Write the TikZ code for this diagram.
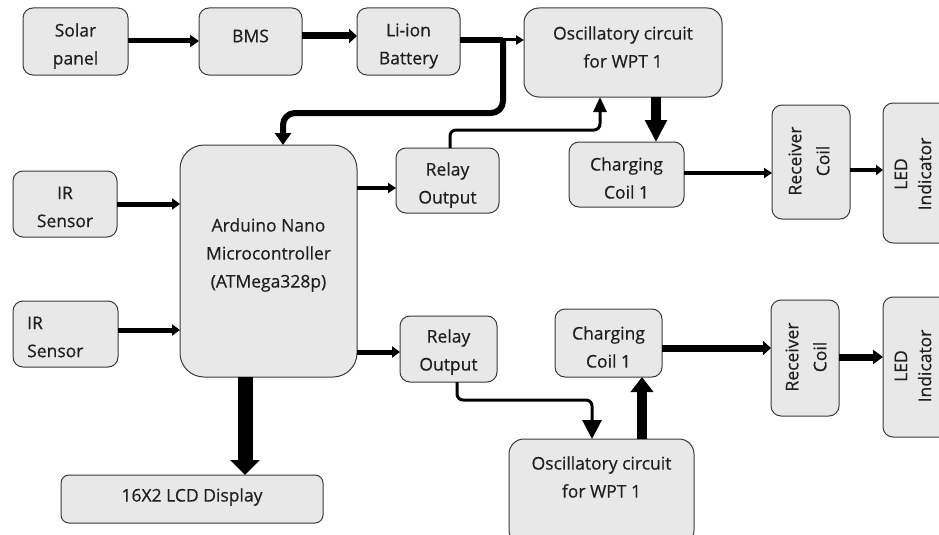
\documentclass[tikz,border=0pt]{standalone}
\usepackage{fontspec}
\setmainfont{Open Sans}[FakeBold=0.5]
\usetikzlibrary{arrows.meta,calc}
\definecolor{boxfill}{HTML}{E8E8E8}
\definecolor{boxline}{HTML}{3A3A3A}
\begin{document}
\begin{tikzpicture}[x=1pt,y=-1pt,
  box/.style={draw=boxline, fill=boxfill, line width=1pt, rounded corners=10pt, inner sep=0pt, outer sep=0pt},
  txt/.style={font=\fontsize{17.5}{28}\selectfont, align=center, inner sep=0pt, text=black!88},
  rtxt/.style={txt, rotate=90},
  conn/.style={line width=#1, draw=black},
]
\useasboundingbox (0,0) rectangle (939,535);
% boxes
\node[box, minimum width=105pt, minimum height=67pt] (solar) at (75.5,41.5) {};
\node[box, minimum width=103pt, minimum height=67pt] (bms) at (250.5,41.5) {};
\node[box, minimum width=103pt, minimum height=67pt] (liion) at (408.5,41.5) {};
\node[box, rounded corners=15pt, minimum width=198pt, minimum height=89pt] (osc1) at (623,52.5) {};
\node[box, minimum width=115pt, minimum height=65pt] (chg1) at (626.5,174.5) {};
\node[box, minimum width=78pt, minimum height=114pt] (rec1) at (811,162) {};
\node[box, minimum width=74pt, minimum height=140pt] (led1) at (920,173) {};
\node[box, minimum width=103pt, minimum height=65pt] (relay1) at (447.5,180.5) {};
\node[box, rounded corners=24pt, minimum width=177pt, minimum height=232pt] (ard) at (268.5,261) {};
\node[box, minimum width=104pt, minimum height=66pt] (ir1) at (65,204) {};
\node[box, minimum width=105pt, minimum height=66pt] (ir2) at (65.5,334) {};
\node[box, minimum width=97pt, minimum height=66pt] (relay2) at (448.5,349) {};
\node[box, minimum width=107pt, minimum height=68pt] (chg2) at (608.5,343) {};
\node[box, rounded corners=15pt, minimum width=185pt, minimum height=106pt] (osc2) at (601.5,492) {};
\node[box, minimum width=68pt, minimum height=116pt] (rec2) at (805,358) {};
\node[box, minimum width=74pt, minimum height=140pt] (led2) at (920,367) {};
\node[box, rounded corners=8pt, minimum width=262pt, minimum height=48pt] (lcd) at (192,499) {};
% texts
\node[txt] (solar-t) at (75.5,46) {Solar\\panel};
\node[txt] (bms-t) at (250.5,36) {BMS};
\node[txt] (liion-t) at (408.5,46) {Li-ion\\Battery};
\node[txt] (osc1-t) at (623,47) {Oscillatory circuit\\for WPT 1};
\node[txt] (chg1-t) at (626.5,178) {Charging\\Coil 1};
\node[rtxt] (rec1-t) at (809,161) {Receiver\\Coil};
\node[rtxt, font=\fontsize{17.5}{24}\selectfont] (led1-t) at (913,174) {LED\\Indicator};
\node[txt] (relay1-t) at (447.5,185) {Relay\\Output};
\node[txt] (ard-t) at (268.5,255) {Arduino Nano\\Microcontroller\\(ATMega328p)};
\node[txt] (ir1-t) at (65,207) {IR\\Sensor};
\node[txt, align=left, anchor=west] (ir2-t) at (27,337) {IR\\Sensor};
\node[txt] (relay2-t) at (448.5,352) {Relay\\Output};
\node[txt] (chg2-t) at (608.5,347) {Charging\\Coil 1};
\node[txt] (osc2-t) at (601.5,477) {Oscillatory circuit\\for WPT 1};
\node[rtxt] (rec2-t) at (806,357) {Receiver\\Coil};
\node[rtxt, font=\fontsize{17.5}{24}\selectfont] (led2-t) at (913,366) {LED\\Indicator};
\node[txt] (lcd-t) at (192,497) {16X2 LCD Display};
% junction coordinates
\coordinate (j1) at (503,40);
% connectors
\draw[conn=5pt, -{Triangle[length=9pt,width=12pt]}] (solar.east |- 0,41) -- (bms.west |- 0,41);
\draw[conn=7pt, -{Triangle[length=8pt,width=14pt]}] (bms.east |- 0,36) -- (liion.west |- 0,36);
\draw[conn=3pt, -{Triangle[length=8pt,width=9pt]}] (liion.east |- 0,40) -- (osc1.west |- 0,40);
\draw[conn=6pt] (liion.east |- 0,40) -- (j1);
\draw[conn=6pt, rounded corners=12pt, -{Triangle[length=12pt,width=16pt]}] (j1) -- (503,113) -- (283,113) -- (ard.north -| 283,0);
\draw[conn=3pt, rounded corners=6pt, -{Triangle[length=15pt,width=13pt]}] (relay1.north -| 450,0) -- (450,130) -- (600,130) -- (osc1.south -| 600,0);
\draw[conn=10pt, -{Triangle[length=22pt,width=21pt]}] (osc1.south -| 656,0) -- (chg1.north -| 656,0);
\draw[conn=4pt, -{Triangle[length=8pt,width=10pt]}] (chg1.east |- 0,173) -- (rec1.west |- 0,173);
\draw[conn=4pt, -{Triangle[length=7pt,width=10pt]}] (rec1.east |- 0,170) -- (led1.west |- 0,170);
\draw[conn=5pt, -{Triangle[length=8pt,width=11pt]}] (ir1.east |- 0,204) -- (ard.west |- 0,204);
\draw[conn=5pt, -{Triangle[length=8pt,width=11pt]}] (ir2.east |- 0,330) -- (ard.west |- 0,330);
\draw[conn=4pt, -{Triangle[length=8pt,width=10pt]}] (ard.east |- 0,188) -- (relay1.west |- 0,188);
\draw[conn=5pt, -{Triangle[length=8pt,width=11pt]}] (ard.east |- 0,352) -- (relay2.west |- 0,352);
\draw[conn=15pt, -{Triangle[length=15pt,width=29pt]}] (ard.south -| 245,0) -- (lcd.north -| 245,0);
\draw[conn=3pt, rounded corners=6pt, -{Triangle[length=19pt,width=19pt]}] (relay2.south -| 457,0) -- (457,400) -- (592,400) -- (osc2.north -| 592,0);
\draw[conn=10pt, -{Triangle[length=15pt,width=22pt]}] (osc2.north -| 642,0) -- (chg2.south -| 642,0);
\draw[conn=7pt, -{Triangle[length=8pt,width=14pt]}] (chg2.east |- 0,348) -- (rec2.west |- 0,348);
\draw[conn=7pt, -{Triangle[length=10pt,width=14pt]}] (rec2.east |- 0,357) -- (led2.west |- 0,357);
\end{tikzpicture}
\end{document}
